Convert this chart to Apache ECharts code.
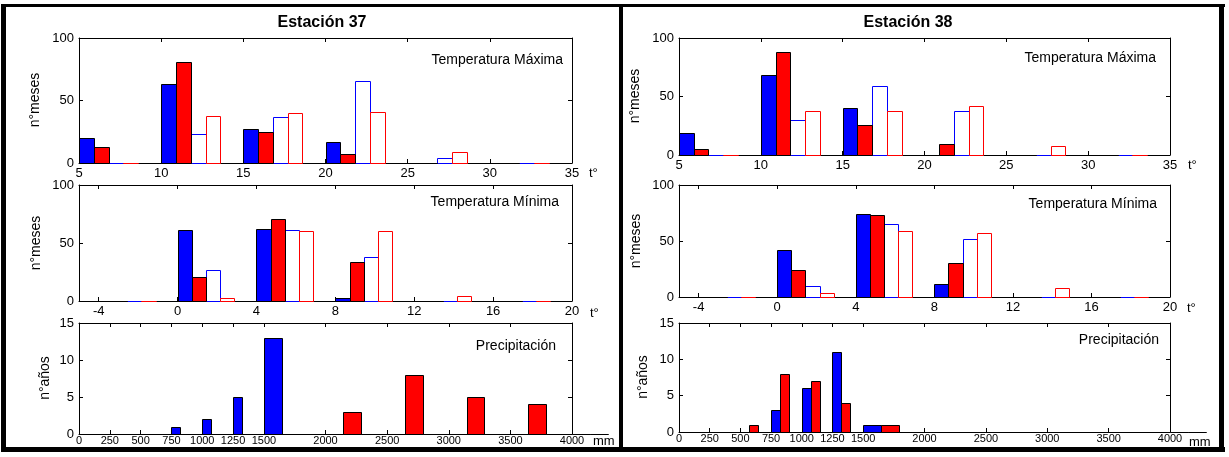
<!DOCTYPE html>
<html><head><meta charset="utf-8">
<script src="https://cdn.jsdelivr.net/npm/echarts@6/dist/echarts.min.js"></script>
<style>html,body{margin:0;padding:0;background:#fff}#c{width:1229px;height:457px}</style>
</head><body><div id="c"></div>
<script>
// ---------- DATA ----------
const TMAX_BINS = [5, 10, 15, 20, 25, 30];
const TMIN_BINS = [-4, 0, 4, 8, 12, 16];
const PREC_BINS = [0, 250, 500, 750, 1000, 1250, 1500, 2000, 2500, 3000, 3500, 4000];

const TMAX_TICKS = [5, 10, 15, 20, 25, 30, 35];
const TMIN_TICKS = [-4, 0, 4, 8, 12, 16, 20];
const PREC_TICKS = [0, 250, 500, 750, 1000, 1250, 1500, 2000, 2500, 3000, 3500, 4000];

// Estación 37
const tmax37_blueFill = [20, 63, 27, 17, 0, 0];
const tmax37_redFill  = [13, 81, 25, 7, 0, 0];
const tmax37_blueOpen = [0, 23, 37, 66, 4, 0];
const tmax37_redOpen  = [0, 38, 40, 41, 9, 0];
const tmin37_blueFill = [0, 61, 62, 3, 0, 0];
const tmin37_redFill  = [0, 21, 71, 34, 0, 0];
const tmin37_blueOpen = [0, 27, 61, 38, 0, 0];
const tmin37_redOpen  = [0, 3, 60, 60, 4, 0];
const prec37_blue = [0, 0, 0, 1, 2, 5, 13, 0, 0, 0, 0, 0];
const prec37_red  = [0, 0, 0, 0, 0, 0, 0, 3, 8, 5, 4, 0];

// Estación 38
const tmax38_blueFill = [19, 68, 40, 0, 0, 0];
const tmax38_redFill  = [5, 88, 26, 9, 0, 0];
const tmax38_blueOpen = [0, 30, 59, 38, 0, 0];
const tmax38_redOpen  = [0, 38, 38, 42, 8, 0];
const tmin38_blueFill = [0, 42, 74, 12, 0, 0];
const tmin38_redFill  = [0, 24, 73, 30, 0, 0];
const tmin38_blueOpen = [0, 10, 65, 52, 0, 0];
const tmin38_redOpen  = [0, 4, 59, 57, 8, 0];
const prec38_blue = [0, 0, 0, 3, 6, 11, 1, 0, 0, 0, 0, 0];
const prec38_red  = [0, 0, 1, 8, 7, 4, 1, 0, 0, 0, 0, 0];

// ---------- LAYOUT / STYLE ----------
const FONT = '"Liberation Sans", Arial, sans-serif';
const BLUE = '#0000ff', RED = '#ff0000';
const TEMP_RATIO = 0.18, PREC_RATIO = 0.29;

const panels = [
  { grid: {left: 79, top: 38, width: 493, height: 125}, xmin: 5, xmax: 35, xticks: TMAX_TICKS, ymax: 100, yint: 50, bins: TMAX_BINS, ratio: TEMP_RATIO, xfs: 13, xm: 4,
    sets: [tmax37_blueFill, tmax37_redFill, tmax37_blueOpen, tmax37_redOpen] },
  { grid: {left: 79, top: 185, width: 493, height: 116}, xmin: -5, xmax: 20, xticks: TMIN_TICKS, ymax: 100, yint: 50, bins: TMIN_BINS, ratio: TEMP_RATIO, xfs: 13, xm: 4,
    sets: [tmin37_blueFill, tmin37_redFill, tmin37_blueOpen, tmin37_redOpen] },
  { grid: {left: 79, top: 323, width: 493, height: 111}, xmin: 0, xmax: 4000, xticks: PREC_TICKS, ymax: 15, yint: 5, bins: PREC_BINS, ratio: PREC_RATIO, xfs: 11, xm: 1,
    sets: [prec37_blue, prec37_red] },
  { grid: {left: 679, top: 38, width: 491, height: 117}, xmin: 5, xmax: 35, xticks: TMAX_TICKS, ymax: 100, yint: 50, bins: TMAX_BINS, ratio: TEMP_RATIO, xfs: 13, xm: 4,
    sets: [tmax38_blueFill, tmax38_redFill, tmax38_blueOpen, tmax38_redOpen] },
  { grid: {left: 679, top: 185, width: 491, height: 112}, xmin: -5, xmax: 20, xticks: TMIN_TICKS, ymax: 100, yint: 50, bins: TMIN_BINS, ratio: TEMP_RATIO, xfs: 13, xm: 4,
    sets: [tmin38_blueFill, tmin38_redFill, tmin38_blueOpen, tmin38_redOpen] },
  { grid: {left: 679, top: 323, width: 491, height: 109}, xmin: 0, xmax: 4000, xticks: PREC_TICKS, ymax: 15, yint: 5, bins: PREC_BINS, ratio: PREC_RATIO, xfs: 11, xm: 1,
    sets: [prec38_blue, prec38_red] }
];

function barRender(bins, k, ratio, fill, stroke) {
  return function (params, api) {
    const i = params.dataIndex;
    const b = api.value(0), v = api.value(1);
    const sp = (i < bins.length - 1) ? bins[i + 1] - bins[i] : bins[i] - bins[i - 1];
    const w = sp * ratio;
    const a = api.coord([b + k * w, v]);
    const c = api.coord([b + (k + 1) * w, 0]);
    const x0 = Math.round(a[0]) + 0.5, x1 = Math.round(c[0]) + 0.5;
    const y0 = Math.round(a[1]) + 0.5, y1 = Math.round(c[1]) + 0.5;
    return { type: 'rect', shape: {x: x0, y: y0, width: x1 - x0, height: y1 - y0},
             style: {fill: fill, stroke: stroke, lineWidth: 1} };
  };
}

const plain = v => String(v);
const grids = [], xAxes = [], yAxes = [], series = [];
const lineStyle = {color: '#000', width: 1};
panels.forEach((p, gi) => {
  grids.push(Object.assign({show: false, containLabel: false}, p.grid));
  const xBase = {type: 'value', gridIndex: gi, min: p.xmin, max: p.xmax,
    axisLine: {show: true, onZero: false, lineStyle: lineStyle},
    axisTick: {show: true, inside: true, length: 4, customValues: p.xticks, lineStyle: lineStyle},
    splitLine: {show: false}};
  xAxes.push(Object.assign({}, xBase, {position: 'bottom',
    axisLabel: {show: true, customValues: p.xticks, formatter: plain, color: '#000', fontSize: p.xfs, fontFamily: FONT, margin: p.xm}}));
  xAxes.push(Object.assign({}, xBase, {position: 'top', axisLabel: {show: false}}));
  const yBase = {type: 'value', gridIndex: gi, min: 0, max: p.ymax, interval: p.yint,
    axisLine: {show: true, onZero: false, lineStyle: lineStyle},
    axisTick: {show: true, inside: true, length: 4, lineStyle: lineStyle},
    splitLine: {show: false}};
  yAxes.push(Object.assign({}, yBase, {position: 'left',
    axisLabel: {show: true, formatter: plain, color: '#000', fontSize: 13, fontFamily: FONT, margin: 5}}));
  yAxes.push(Object.assign({}, yBase, {position: 'right', axisLabel: {show: false}}));

  const styles = p.sets.length === 4
    ? [[BLUE, '#000'], [RED, '#000'], ['#fff', BLUE], ['#fff', RED]]
    : [[BLUE, '#000'], [RED, '#000']];
  const order = p.sets.length === 4 ? [2, 3, 0, 1] : [0, 1];
  order.forEach(k => {
    series.push({
      type: 'custom', xAxisIndex: gi * 2, yAxisIndex: gi * 2, clip: false,
      renderItem: barRender(p.bins, k, p.ratio, styles[k][0], styles[k][1]),
      data: p.bins.map((b, i) => [b, p.sets[k][i]]),
      silent: true, animation: false
    });
  });
});

function txt(x, y, text, size, opts) {
  opts = opts || {};
  return {type: 'text', x: x, y: y, rotation: opts.rot || 0, z: 100,
    style: {text: text, fill: '#000', font: (opts.bold ? 'bold ' : '') + size + 'px ' + FONT,
      align: opts.align || 'center', verticalAlign: 'middle',
      textAlign: opts.align || 'center', textVerticalAlign: 'middle'}};
}
function box(x, y, w, h) {
  return {type: 'rect', shape: {x: x, y: y, width: w, height: h}, style: {fill: '#000'}, z: 100};
}

const graphics = [
  box(1, 4, 1224, 3), box(1, 447, 1224, 5), box(1, 4, 5, 448), box(1219, 4, 5, 448), box(619, 4, 4, 448),
  txt(322, 23, 'Estación 37', 16, {bold: true}),
  txt(908, 23, 'Estación 38', 16, {bold: true}),
  txt(35, 100, 'n°meses', 14, {rot: Math.PI / 2}),
  txt(36, 243, 'n°meses', 14, {rot: Math.PI / 2}),
  txt(45, 378, 'n°años', 14, {rot: Math.PI / 2}),
  txt(635, 96, 'n°meses', 14, {rot: Math.PI / 2}),
  txt(636, 241, 'n°meses', 14, {rot: Math.PI / 2}),
  txt(643, 377, 'n°años', 14, {rot: Math.PI / 2}),
  txt(563, 60, 'Temperatura Máxima', 14, {align: 'right'}),
  txt(559, 202, 'Temperatura Mínima', 14, {align: 'right'}),
  txt(556, 346, 'Precipitación', 14, {align: 'right'}),
  txt(1156, 58, 'Temperatura Máxima', 14, {align: 'right'}),
  txt(1157, 204, 'Temperatura Mínima', 14, {align: 'right'}),
  txt(1159, 340, 'Precipitación', 14, {align: 'right'}),
  txt(589, 173, 't°', 13, {align: 'left'}),
  txt(590, 313, 't°', 13, {align: 'left'}),
  txt(593, 441, 'mm', 13, {align: 'left'}),
  txt(1188, 165, 't°', 13, {align: 'left'}),
  txt(1187, 308, 't°', 13, {align: 'left'}),
  txt(1189, 442, 'mm', 13, {align: 'left'})
];

const chart = echarts.init(document.getElementById('c'), null, {renderer: 'canvas'});
chart.setOption({
  backgroundColor: '#fff',
  animation: false,
  grid: grids, xAxis: xAxes, yAxis: yAxes, series: series,
  graphic: {elements: graphics}
});
</script>
</body></html>
